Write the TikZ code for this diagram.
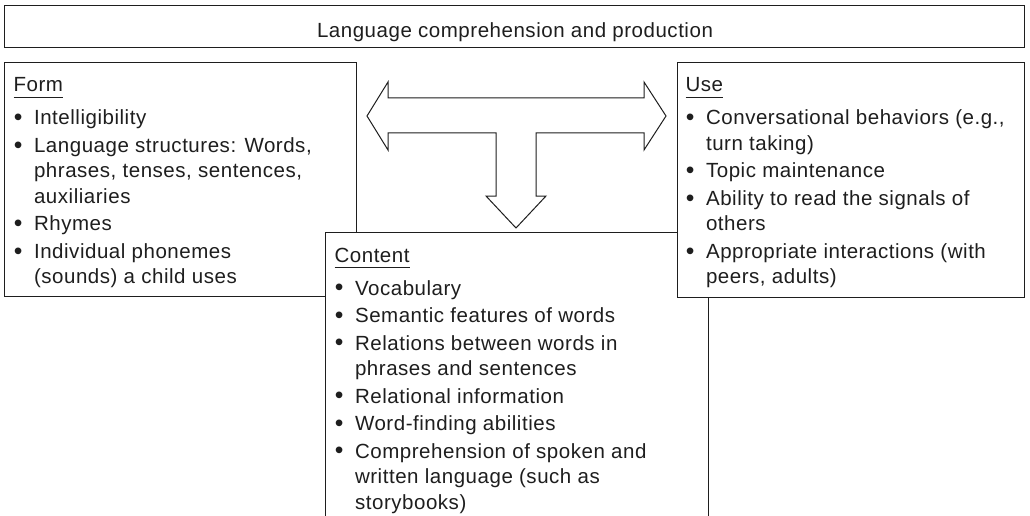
\documentclass[tikz,border=0pt]{standalone}
\usepackage{fontspec}
\setmainfont{Liberation Sans}[LetterSpace=2.6]
\usetikzlibrary{calc}
\definecolor{ink}{HTML}{1E1E1E}
% bullet and hanging indent for list lines
\newcommand\bul{\makebox[20.5pt][l]{\hspace*{0.3pt}\raisebox{-0.6pt}{\scalebox{1.2}{\textbullet}}}}
\newcommand\ind{\hspace*{20.5pt}}
% underlined panel heading
\newcommand\hdr[1]{\setbox0\hbox{#1}\rlap{\rule[-5.5pt]{\wd0}{0.9pt}}\box0}
\begin{document}
\begin{tikzpicture}[x=1pt,y=-1pt,line width=1.1pt,
  panel/.style={draw=ink,fill=white,inner sep=0pt,anchor=north west},
  listtext/.style={inner sep=0pt,anchor=base west,text=ink,
    font=\fontsize{20.5}{25.5}\selectfont}]
\useasboundingbox (0,0) rectangle (1030,516);

% heading bar
\node[panel,minimum width=1020pt,minimum height=42pt] (title) at (4,5) {};
\node[listtext,anchor=base] (titletext) at (515,37.5) {Language comprehension and production};

% Form
\node[panel,minimum width=352pt,minimum height=234pt] (form) at (4,62) {};
\node[listtext] (formtext) at ($(form.north west)+(9,30)$) {\begin{tabular}[t]{@{}l@{}}
\hdr{Form}\\[7.5pt]
\bul Intelligibility\\[2pt]
\bul Language structures: Words,\\
\ind phrases, tenses, sentences,\\
\ind auxiliaries\\[2pt]
\bul Rhymes\\[2pt]
\bul Individual phonemes\\
\ind (sounds) a child uses
\end{tabular}};

% Content
\node[panel,minimum width=383pt,minimum height=300pt] (content) at (325,232) {};
\node[listtext] (contenttext) at ($(content.north west)+(9,30)$) {\begin{tabular}[t]{@{}l@{}}
\hdr{Content}\\[7.5pt]
\bul Vocabulary\\[2pt]
\bul Semantic features of words\\[2pt]
\bul Relations between words in\\
\ind phrases and sentences\\[2pt]
\bul Relational information\\[2pt]
\bul Word-finding abilities\\[2pt]
\bul Comprehension of spoken and\\
\ind written language (such as\\
\ind storybooks)
\end{tabular}};

% Use
\node[panel,minimum width=347pt,minimum height=235pt] (use) at (677,62) {};
\node[listtext] (usetext) at ($(use.north west)+(8,30)$) {\begin{tabular}[t]{@{}l@{}}
\hdr{Use}\\[7.5pt]
\bul Conversational behaviors (e.g.,\\
\ind turn taking)\\[2pt]
\bul Topic maintenance\\[2pt]
\bul Ability to read the signals of\\
\ind others\\[2pt]
\bul Appropriate interactions (with\\
\ind peers, adults)
\end{tabular}};

% T-shaped block arrow between the three panels
\draw[ink,fill=white,line width=1pt,line join=miter]
  (367,116) -- (388,82) -- (388,98) -- (644,98) -- (644,82) -- (666,116)
  -- (644,150) -- (644,133) -- (536,133) -- (536,196) -- (546,196)
  -- (516,228) -- (486,196) -- (496,196) -- (496,133) -- (388,133)
  -- (388,150) -- cycle;
\end{tikzpicture}
\end{document}
